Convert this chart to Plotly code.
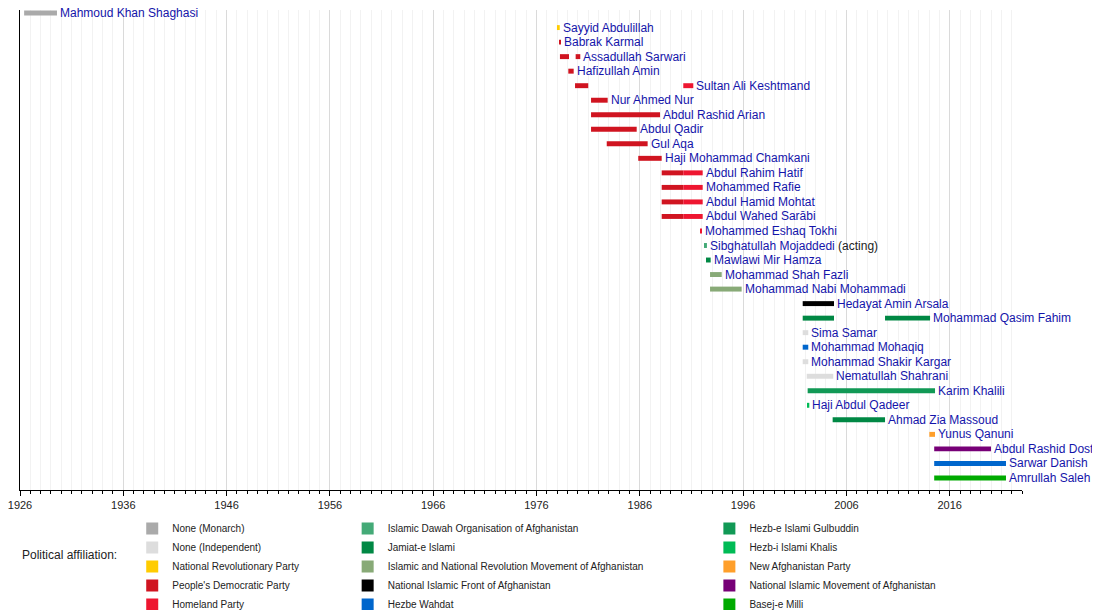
import plotly.graph_objects as go

# rows of the timeline, top to bottom
people = [
    "Mahmoud Khan Shaghasi", "Sayyid Abdulillah", "Babrak Karmal", "Assadullah Sarwari",
    "Hafizullah Amin", "Sultan Ali Keshtmand", "Nur Ahmed Nur", "Abdul Rashid Arian",
    "Abdul Qadir", "Gul Aqa", "Haji Mohammad Chamkani", "Abdul Rahim Hatif",
    "Mohammed Rafie", "Abdul Hamid Mohtat", "Abdul Wahed Sarābi", "Mohammed Eshaq Tokhi",
    "Sibghatullah Mojaddedi", "Mawlawi Mir Hamza", "Mohammad Shah Fazli",
    "Mohammad Nabi Mohammadi", "Hedayat Amin Arsala", "Mohammad Qasim Fahim", "Sima Samar",
    "Mohammad Mohaqiq", "Mohammad Shakir Kargar", "Nematullah Shahrani", "Karim Khalili",
    "Haji Abdul Qadeer", "Ahmad Zia Massoud", "Yunus Qanuni", "Abdul Rashid Dostum",
    "Sarwar Danish", "Amrullah Saleh",
]
notes = {"Sibghatullah Mojaddedi": "(acting)"}

parties = [
    "None (Monarch)", "None (Independent)", "National Revolutionary Party",
    "People's Democratic Party", "Homeland Party",
    "Islamic Dawah Organisation of Afghanistan", "Jamiat-e Islami",
    "Islamic and National Revolution Movement of Afghanistan",
    "National Islamic Front of Afghanistan", "Hezbe Wahdat",
    "Hezb-e Islami Gulbuddin", "Hezb-i Islami Khalis", "New Afghanistan Party",
    "National Islamic Movement of Afghanistan", "Basej-e Milli",
]
party_colors = [
    "#aaaaaa", "#dddddd", "#ffcc00", "#d01420", "#ee1630",
    "#44aa77", "#008844", "#88aa77", "#000000", "#0066cc",
    "#119955", "#00bb55", "#ff9f2a", "#770077", "#00aa00",
]

# one entry per term in office (years as decimals)
term_person = [
    "Mahmoud Khan Shaghasi", "Sayyid Abdulillah", "Babrak Karmal",
    "Assadullah Sarwari", "Assadullah Sarwari", "Hafizullah Amin",
    "Sultan Ali Keshtmand", "Sultan Ali Keshtmand", "Nur Ahmed Nur",
    "Abdul Rashid Arian", "Abdul Qadir", "Gul Aqa", "Haji Mohammad Chamkani",
    "Abdul Rahim Hatif", "Abdul Rahim Hatif", "Mohammed Rafie", "Mohammed Rafie",
    "Abdul Hamid Mohtat", "Abdul Hamid Mohtat", "Abdul Wahed Sarābi", "Abdul Wahed Sarābi",
    "Mohammed Eshaq Tokhi", "Sibghatullah Mojaddedi", "Mawlawi Mir Hamza",
    "Mohammad Shah Fazli", "Mohammad Nabi Mohammadi", "Hedayat Amin Arsala",
    "Mohammad Qasim Fahim", "Mohammad Qasim Fahim", "Sima Samar", "Mohammad Mohaqiq",
    "Mohammad Shakir Kargar", "Nematullah Shahrani", "Karim Khalili", "Haji Abdul Qadeer",
    "Ahmad Zia Massoud", "Yunus Qanuni", "Abdul Rashid Dostum", "Sarwar Danish",
    "Amrullah Saleh",
]
term_start = [
    1926.4, 1977.98, 1978.18,
    1978.27, 1979.79, 1979.08,
    1979.73, 1990.21, 1981.28,
    1981.28, 1981.28, 1982.8, 1985.85,
    1988.12, 1990.21, 1988.12, 1990.21,
    1988.12, 1990.21, 1988.12, 1990.21,
    1991.83, 1992.31, 1992.41,
    1992.8, 1992.8, 2001.77,
    2001.77, 2009.74, 2001.77, 2001.77,
    2001.77, 2002.16, 2002.25, 2002.25,
    2004.67, 2014.03, 2014.5, 2014.5,
    2014.5,
]
term_end = [
    1929.58, 1978.25, 1978.34,
    1979.15, 1980.24, 1979.6,
    1981.01, 1991.18, 1982.89,
    1987.96, 1985.7, 1986.76, 1988.12,
    1990.21, 1992.09, 1990.21, 1992.09,
    1990.21, 1992.09, 1990.21, 1992.09,
    1992.02, 1992.5, 1992.86,
    1993.93, 1995.86, 2004.8,
    2004.8, 2014.1, 2002.31, 2002.31,
    2002.31, 2004.73, 2014.58, 2002.41,
    2009.74, 2014.58, 2020.0, 2021.45,
    2021.45,
]
term_party = [
    "None (Monarch)", "National Revolutionary Party", "People's Democratic Party",
    "People's Democratic Party", "People's Democratic Party", "People's Democratic Party",
    "People's Democratic Party", "Homeland Party", "People's Democratic Party",
    "People's Democratic Party", "People's Democratic Party", "People's Democratic Party",
    "People's Democratic Party",
    "People's Democratic Party", "Homeland Party", "People's Democratic Party", "Homeland Party",
    "People's Democratic Party", "Homeland Party", "People's Democratic Party", "Homeland Party",
    "Homeland Party", "Islamic Dawah Organisation of Afghanistan", "Jamiat-e Islami",
    "Islamic and National Revolution Movement of Afghanistan",
    "Islamic and National Revolution Movement of Afghanistan",
    "National Islamic Front of Afghanistan",
    "Jamiat-e Islami", "Jamiat-e Islami", "None (Independent)", "Hezbe Wahdat",
    "None (Independent)", "None (Independent)", "Hezb-e Islami Gulbuddin", "Hezb-i Islami Khalis",
    "Jamiat-e Islami", "New Afghanistan Party", "National Islamic Movement of Afghanistan",
    "Hezbe Wahdat", "Basej-e Milli",
]

FONT = "Liberation Sans, Arial, sans-serif"


def build_figure():
        fig = go.Figure()

        # bars, one trace per party so each gets a legend entry
        for i, (party, color) in enumerate(zip(parties, party_colors)):
                idx = [k for k, p in enumerate(term_party) if p == party]
                legend_name = "legend" if i < 5 else ("legend2" if i < 10 else "legend3")
                fig.add_trace(go.Bar(
                    orientation="h",
                    y=[people.index(term_person[k]) for k in idx],
                    base=[term_start[k] for k in idx],
                    x=[term_end[k] - term_start[k] for k in idx],
                    width=0.34,
                    marker=dict(color=color, line=dict(width=0)),
                    name=party,
                    legend=legend_name,
                    showlegend=True,
                    hovertemplate="%{base:.1f} - %{x:.1f}<extra>" + party + "</extra>",
                ))

        # name labels after the last term of each person
        annotations = []
        for row, person in enumerate(people):
                ends = [e for p, e in zip(term_person, term_end) if p == person]
                text = person
                if person in notes:
                        text += " <span style='color:#222222'>" + notes[person] + "</span>"
                annotations.append(dict(
                    x=max(ends), y=row, xref="x", yref="y", text=text,
                    xanchor="left", yanchor="middle", xshift=1, showarrow=False,
                    font=dict(family=FONT, size=12, color="#1414aa"),
                ))

        annotations.append(dict(
            text="Political affiliation:", xref="paper", yref="paper",
            x=0, y=-0.135, xanchor="left", yanchor="middle", showarrow=False,
            font=dict(family=FONT, size=12, color="#222222"),
        ))

        legend_common = dict(
            orientation="v", yanchor="top", xanchor="left",
            font=dict(family=FONT, size=10, color="#222222"),
            bgcolor="rgba(0,0,0,0)", borderwidth=0,
            tracegroupgap=0, itemclick=False, itemdoubleclick=False,
        )

        # the page body has an 8px margin, so the figure is 8px smaller than the window
        fig.update_layout(
            width=1092, height=602,
            margin=dict(l=12, r=78, t=2, b=120, autoexpand=False),
            plot_bgcolor="white", paper_bgcolor="white",
            barmode="overlay",
            xaxis=dict(
                range=[1926, 2023], tick0=1926, dtick=10,
                showgrid=True, gridcolor="#dadada", gridwidth=1,
                ticks="outside", ticklen=5, tickcolor="black",
                showline=True, linecolor="black", linewidth=1,
                zeroline=False, automargin=False, ticklabeloverflow="allow",
                tickfont=dict(family=FONT, size=11, color="#222222"),
                minor=dict(dtick=1, tick0=1926, showgrid=True, gridcolor="#f2f2f2",
                           ticks="outside", ticklen=3, tickcolor="black"),
            ),
            yaxis=dict(
                range=[32.83, -0.21], showgrid=False, showticklabels=False,
                ticks="", zeroline=False, automargin=False,
                showline=True, linecolor="black", linewidth=1,
            ),
            legend=dict(x=0.112, y=-0.05, **legend_common),
            legend2=dict(x=0.327, y=-0.05, **legend_common),
            legend3=dict(x=0.688, y=-0.05, **legend_common),
            annotations=annotations,
        )
        return fig


def main():
        fig = build_figure()
        fig.write_html("out.html")


if __name__ == "__main__":
        main()
